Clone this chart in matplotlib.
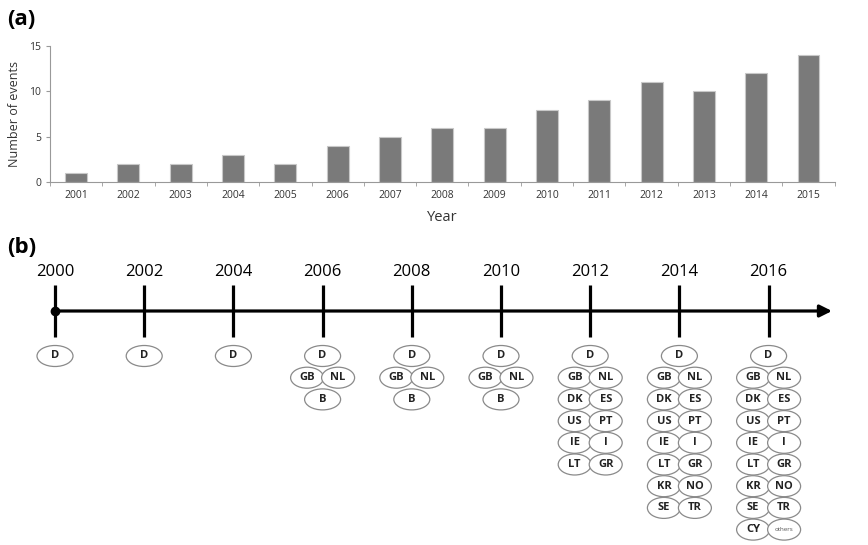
import numpy as np
import matplotlib.pyplot as plt
from matplotlib.patches import Ellipse

# (a) данные по годам
years_a = ['2001', '2002', '2003', '2004', '2005', '2006', '2007', '2008',
           '2009', '2010', '2011', '2012', '2013', '2014', '2015']
events = [1, 2, 2, 3, 2, 4, 5, 6, 6, 8, 9, 11, 10, 12, 14]

# (b) шкала времени и страны
timeline_years = [2000, 2002, 2004, 2006, 2008, 2010, 2012, 2014, 2016]
countries = {
    2000: [['D']],
    2002: [['D']],
    2004: [['D']],
    2006: [['D'], ['GB', 'NL'], ['B']],
    2008: [['D'], ['GB', 'NL'], ['B']],
    2010: [['D'], ['GB', 'NL'], ['B']],
    2012: [['D'], ['GB', 'NL'], ['DK', 'ES'], ['US', 'PT'], ['IE', 'I'], ['LT', 'GR']],
    2014: [['D'], ['GB', 'NL'], ['DK', 'ES'], ['US', 'PT'], ['IE', 'I'], ['LT', 'GR'],
           ['KR', 'NO'], ['SE', 'TR']],
    2016: [['D'], ['GB', 'NL'], ['DK', 'ES'], ['US', 'PT'], ['IE', 'I'], ['LT', 'GR'],
           ['KR', 'NO'], ['SE', 'TR'], ['CY', 'others']],
}

plt.rcParams['font.family'] = ['Open Sans', 'DejaVu Sans']

fig = plt.figure(figsize=(8.68, 5.45), dpi=100)

# ---------- панель (a) ----------
ax = fig.add_axes([0.0576, 0.666, 0.904, 0.2495])
x = np.arange(len(years_a))
ax.bar(x, events, width=0.42, color='#7a7a7a', edgecolor='#c8c8c8', linewidth=0.8)
ax.set_xlim(-0.5, len(years_a) - 0.5)
ax.set_ylim(0, 15)
ax.set_yticks([0, 5, 10, 15])
ax.set_xticks(x)
ax.set_xticklabels(years_a, fontsize=7.5, color='#333333')
ax.tick_params(axis='y', labelsize=7.5, labelcolor='#333333', length=3, color='#999999')
ax.tick_params(axis='x', length=0, pad=6)
ax.set_xticks(np.arange(-0.5, len(years_a)), minor=True)
ax.tick_params(axis='x', which='minor', length=3, color='#999999')
for s in ['top', 'right']:
    ax.spines[s].set_visible(False)
for s in ['left', 'bottom']:
    ax.spines[s].set_color('#999999')
    ax.spines[s].set_linewidth(0.8)
ax.set_ylabel('Number of events', fontsize=9, color='#333333', labelpad=6)
ax.set_xlabel('Year', fontsize=10.5, color='#333333', labelpad=6)

fig.text(0.008, 0.965, '(a)', fontsize=16, fontweight='bold', va='center', ha='left')
fig.text(0.008, 0.545, '(b)', fontsize=16, fontweight='bold', va='center', ha='left')

# ---------- панель (b) ----------
px_per_year = 44.6
x0 = 2000 - 55 / px_per_year
axb = fig.add_axes([0, 0, 1, 315 / 545])
axb.set_xlim(x0, x0 + 868 / px_per_year)
axb.set_ylim(545, 230)
axb.axis('off')

line_y = 311
axb.annotate('', xy=(2000 + 777 / px_per_year, line_y), xytext=(2000, line_y),
             arrowprops=dict(arrowstyle='-|>', lw=2.3, color='black', mutation_scale=18,
                             shrinkA=0, shrinkB=0))
axb.plot([2000], [line_y], 'o', color='black', markersize=6)
for yr in timeline_years:
    axb.plot([yr, yr], [285, 337], color='black', lw=2.3, solid_capstyle='butt')
    axb.text(yr, 272, str(yr), ha='center', va='center', fontsize=12)

row0 = 356
row_step = 21.7
single_w = 36 / px_per_year
pair_w = 33 / px_per_year
pair_dx = 15.5 / px_per_year
ell_h = 21
for yr in timeline_years:
    for r, row in enumerate(countries[yr]):
        cy = row0 + r * row_step
        if len(row) == 1:
            centers = [yr]
            w = single_w
        else:
            centers = [yr - pair_dx, yr + pair_dx]
            w = pair_w
        for cx, name in zip(centers, row):
            axb.add_patch(Ellipse((cx, cy), w, ell_h, facecolor='white',
                                  edgecolor='#8a8a8a', lw=0.9))
            if name == 'others':
                axb.text(cx, cy, name, ha='center', va='center', fontsize=4.5,
                         color='#555555')
            else:
                axb.text(cx, cy, name, ha='center', va='center', fontsize=8,
                         color='#222222', fontweight='bold')

fig.savefig('out.png', dpi=100)
